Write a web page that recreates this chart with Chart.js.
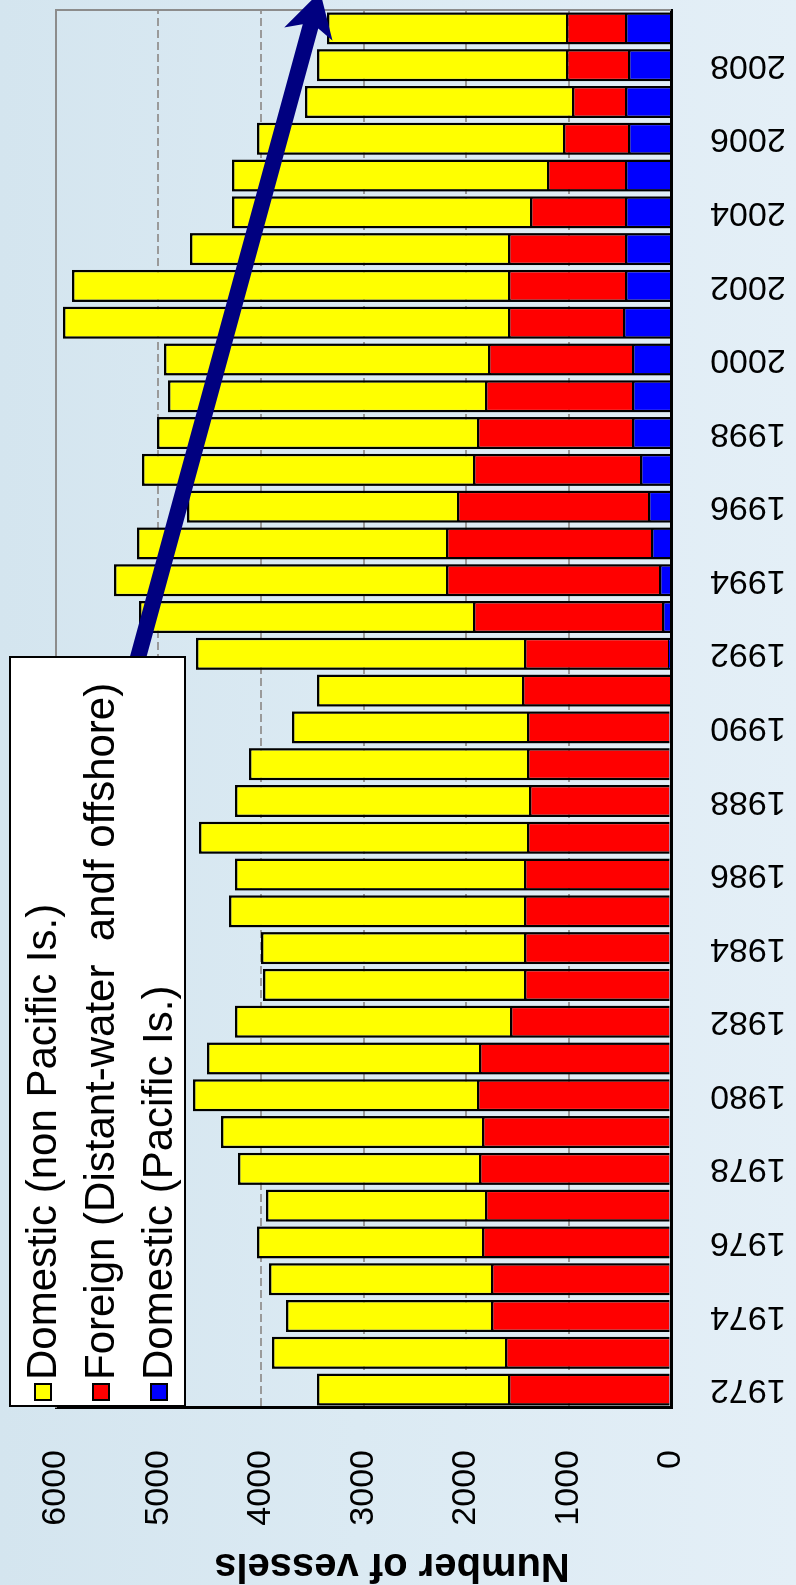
<!DOCTYPE html>
<html>
<head>
<meta charset="utf-8">
<script src="https://cdn.jsdelivr.net/npm/chart.js@4.4.0/dist/chart.umd.min.js"></script>
<style>
  html, body { margin: 0; padding: 0; }
  body {
    width: 796px; height: 1585px; overflow: hidden; position: relative;
    background: linear-gradient(90deg, #d4e5ef 0%, #dbeaf3 45%, #e4eff7 100%);
  }
  /* chart is drawn as a normal column chart, then turned a quarter left */
  #wrap {
    position: absolute; left: 0; top: 0; width: 1585px; height: 796px;
    transform-origin: 0 0; transform: translate(0, 1585px) rotate(-90deg);
  }
</style>
</head>
<body>
<div id="wrap"><canvas id="vessels" width="1585" height="796"></canvas></div>
<script>
const years = [1972, 1973, 1974, 1975, 1976, 1977, 1978, 1979, 1980, 1981,
  1982, 1983, 1984, 1985, 1986, 1987, 1988, 1989, 1990, 1991,
  1992, 1993, 1994, 1995, 1996, 1997, 1998, 1999, 2000, 2001,
  2002, 2003, 2004, 2005, 2006, 2007, 2008, 2009];

const domesticPacific = [15, 15, 15, 15, 15, 15, 15, 15, 15, 15,
  15, 15, 15, 15, 15, 15, 15, 15, 15, 0,
  29, 88, 117, 195, 224, 302, 380, 380, 380, 468,
  449, 449, 449, 449, 420, 449, 420, 449];

const foreign = [1575, 1605, 1741, 1741, 1829, 1800, 1858, 1829, 1878, 1858,
  1556, 1419, 1419, 1419, 1419, 1390, 1370, 1390, 1390, 1454,
  1405, 1844, 2078, 2000, 1864, 1630, 1513, 1435, 1405, 1122,
  1141, 1141, 927, 761, 634, 517, 604, 575];

const domesticNonPacific = [1864, 2273, 2000, 2166, 2195, 2136, 2351, 2546, 2770, 2654,
  2683, 2546, 2566, 2878, 2820, 3200, 2869, 2712, 2293, 2000,
  3200, 3258, 3239, 3015, 2634, 3229, 3122, 3092, 3161, 4342,
  4254, 3103, 2907, 3073, 2985, 2605, 2430, 2332];

const valueTicks = [0, 1000, 2000, 3000, 4000, 5000, 6000];
const axisTitle = "Number of vessels";

// trend arrow, in (category index, value)
const arrowFrom = [19.8, 5210];
const arrowTo = [38.0, 3424];

const FONT = '"Liberation Sans", Arial, sans-serif';

const frame = {
  id: "frame",
  beforeDatasetsDraw(chart) {
    const { ctx, chartArea: a } = chart;
    ctx.save();
    ctx.strokeStyle = "#8c8c8c";
    ctx.lineWidth = 2;
    ctx.beginPath();
    ctx.moveTo(a.left, a.top);
    ctx.lineTo(a.right, a.top);
    ctx.lineTo(a.right, a.bottom);
    ctx.stroke();
    ctx.restore();
  }
};

const trendArrow = {
  id: "trendArrow",
  afterDatasetsDraw(chart) {
    const { ctx, scales } = chart;
    const x0 = scales.x.getPixelForValue(arrowFrom[0]), y0 = scales.y.getPixelForValue(arrowFrom[1]);
    const x1 = scales.x.getPixelForValue(arrowTo[0]), y1 = scales.y.getPixelForValue(arrowTo[1]);
    const len = Math.hypot(x1 - x0, y1 - y0);
    const ux = (x1 - x0) / len, uy = (y1 - y0) / len;
    const px = -uy, py = ux;
    const head = 44, half = 25, notch = 36, shaft = 8;
    ctx.save();
    ctx.fillStyle = "#000080";
    ctx.beginPath();
    ctx.moveTo(x0 + px * shaft, y0 + py * shaft);
    ctx.lineTo(x1 - ux * notch + px * shaft, y1 - uy * notch + py * shaft);
    ctx.lineTo(x1 - ux * head + px * half, y1 - uy * head + py * half);
    ctx.lineTo(x1, y1);
    ctx.lineTo(x1 - ux * head - px * half, y1 - uy * head - py * half);
    ctx.lineTo(x1 - ux * notch - px * shaft, y1 - uy * notch - py * shaft);
    ctx.lineTo(x0 - px * shaft, y0 - py * shaft);
    ctx.closePath();
    ctx.fill();
    ctx.restore();
  }
};

const boxLegend = {
  id: "boxLegend",
  afterDraw(chart) {
    const ctx = chart.ctx;
    ctx.save();
    ctx.fillStyle = "#fff";
    ctx.fillRect(179, 10, 749, 175);
    ctx.strokeStyle = "#000";
    ctx.lineWidth = 2;
    ctx.strokeRect(179, 10, 749, 175);
    chart.data.datasets.slice().reverse().forEach((ds, i) => {
      const cy = 43 + i * 58;
      ctx.fillStyle = ds.backgroundColor;
      ctx.fillRect(185, cy - 8, 16, 16);
      ctx.strokeRect(185, cy - 8, 16, 16);
      ctx.fillStyle = "#000";
      ctx.font = "42px " + FONT;
      ctx.textBaseline = "middle";
      ctx.fillText(ds.label, 205, cy + 1);
    });
    // value axis title
    ctx.translate(20, 392);
    ctx.rotate(-Math.PI / 2);
    ctx.font = "bold 40px " + FONT;
    ctx.textAlign = "center";
    ctx.textBaseline = "middle";
    ctx.fillText(axisTitle, 0, 0);
    ctx.restore();
  }
};

const barStyle = { borderColor: "#000", borderWidth: 2.5, barPercentage: 0.9, categoryPercentage: 0.97 };

new Chart(document.getElementById("vessels"), {
  type: "bar",
  data: {
    labels: years.map(String),
    datasets: [
      { label: "Domestic (Pacific Is.)", data: domesticPacific, backgroundColor: "#0000ff", ...barStyle },
      { label: "Foreign (Distant-water  andf offshore)", data: foreign, backgroundColor: "#ff0000", ...barStyle },
      { label: "Domestic (non Pacific Is.)", data: domesticNonPacific, backgroundColor: "#ffff00", ...barStyle }
    ]
  },
  options: {
    responsive: false,
    animation: false,
    devicePixelRatio: 1,
    layout: { padding: { top: 56, right: 10, bottom: 0, left: 0 } },
    plugins: { legend: { display: false }, tooltip: { enabled: false } },
    scales: {
      x: {
        stacked: true,
        z: 1,
        grid: { display: false },
        border: { display: true, color: "#000", width: 3 },
        ticks: {
          autoSkip: false, minRotation: 90, maxRotation: 90, padding: 31,
          color: "#000", font: { family: FONT, size: 34 },
          callback: (v, i) => (years[i] % 2 === 0 ? String(years[i]) : "")
        },
        afterFit: (s) => { s.height = 125; s.paddingLeft = 0; s.paddingRight = 0; }
      },
      y: {
        stacked: true,
        min: valueTicks[0],
        max: valueTicks[valueTicks.length - 1],
        afterBuildTicks: (s) => { s.ticks = valueTicks.map((v) => ({ value: v })); },
        grid: {
          drawTicks: false, lineWidth: 2,
          color: (c) => (c.tick && (c.tick.value === 0 || c.tick.value === 6000) ? "rgba(0,0,0,0)" : "#9a9a9a")
        },
        border: { display: true, color: "#000", width: 3, dash: [8, 4] },
        ticks: { padding: 42, color: "#000", font: { family: FONT, size: 34 }, callback: (v) => String(v) },
        afterFit: (s) => { s.width = 177; s.paddingTop = 0; s.paddingBottom = 0; }
      }
    }
  },
  plugins: [frame, trendArrow, boxLegend]
});
</script>
</body>
</html>
